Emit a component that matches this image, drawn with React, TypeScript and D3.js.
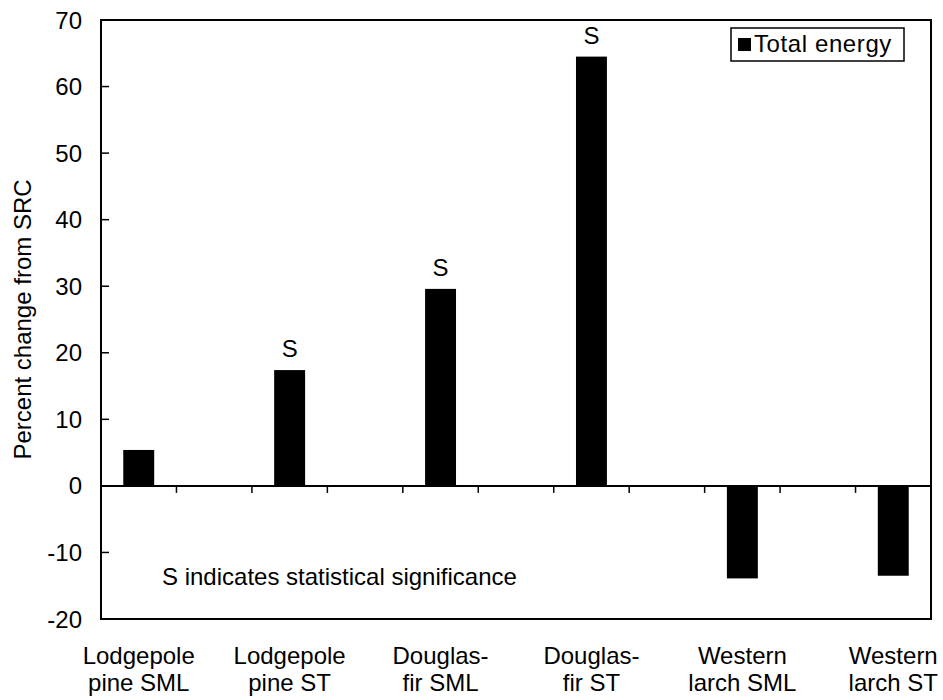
import React, { useEffect, useRef } from 'react';
import * as d3 from 'd3';

const categories = [
  ['Lodgepole', 'pine SML'],
  ['Lodgepole', 'pine ST'],
  ['Douglas-', 'fir SML'],
  ['Douglas-', 'fir ST'],
  ['Western', 'larch SML'],
  ['Western', 'larch ST'],
];
const totalEnergy = [5.4, 17.4, 29.6, 64.5, -13.9, -13.5];
const significance = ['', 'S', 'S', 'S', '', ''];
const yTicks = [70, 60, 50, 40, 30, 20, 10, 0, -10, -20];

const width = 943;
const height = 700;
const font = 'Liberation Sans, Arial, Helvetica, sans-serif';
const fs = 24;

export default function App() {
  const ref = useRef<SVGSVGElement>(null);

  useEffect(() => {
    const svg = d3.select(ref.current);
    svg.selectAll('*').remove();

    const left = 101, right = 931, top = 20, bottom = 619;
    // 11 slots, bars sit in every other one
    const x = d3.scaleLinear().domain([0, 11]).range([left, right]);
    const y = d3.scaleLinear().domain([-20, 70]).range([bottom, top]);
    const slot = (i: number) => x(2 * i + 0.5);
    const barW = x(0.41) - x(0);

    const g = svg.append('g');

    // bars
    g.selectAll('rect.bar')
      .data(totalEnergy)
      .enter()
      .append('rect')
      .attr('class', 'bar')
      .attr('x', (d, i) => slot(i) - barW / 2)
      .attr('width', barW)
      .attr('y', d => y(Math.max(0, d)))
      .attr('height', d => Math.abs(y(d) - y(0)))
      .attr('fill', '#000');

    // frame
    g.append('rect')
      .attr('x', left)
      .attr('y', top)
      .attr('width', right - left)
      .attr('height', bottom - top)
      .attr('fill', 'none')
      .attr('stroke', '#000')
      .attr('stroke-width', 2);

    // zero line
    g.append('line')
      .attr('x1', left).attr('x2', right)
      .attr('y1', y(0)).attr('y2', y(0))
      .attr('stroke', '#000')
      .attr('stroke-width', 2);

    // x ticks below zero line
    g.selectAll('line.xt')
      .data(d3.range(1, 11))
      .enter()
      .append('line')
      .attr('x1', d => x(d)).attr('x2', d => x(d))
      .attr('y1', y(0)).attr('y2', y(0) + 7)
      .attr('stroke', '#000')
      .attr('stroke-width', 1.5);

    // y ticks inward
    g.selectAll('line.yt')
      .data(yTicks.filter(d => d !== 70 && d !== -20))
      .enter()
      .append('line')
      .attr('x1', left).attr('x2', left + 8)
      .attr('y1', d => y(d)).attr('y2', d => y(d))
      .attr('stroke', '#000')
      .attr('stroke-width', 1.5);

    // y tick labels
    g.selectAll('text.yl')
      .data(yTicks)
      .enter()
      .append('text')
      .attr('x', left - 19)
      .attr('y', d => y(d) + 8.5)
      .attr('text-anchor', 'end')
      .attr('font-family', font)
      .attr('font-size', fs)
      .text(d => d);

    // y axis title
    g.append('text')
      .attr('transform', `translate(31,${(top + bottom) / 2}) rotate(-90)`)
      .attr('text-anchor', 'middle')
      .attr('font-family', font)
      .attr('font-size', fs)
      .text('Percent change from SRC');

    // category labels
    categories.forEach((lines, i) => {
      lines.forEach((t, j) => {
        g.append('text')
          .attr('x', slot(i))
          .attr('y', 664 + j * 27)
          .attr('text-anchor', 'middle')
          .attr('font-family', font)
          .attr('font-size', fs)
          .text(t);
      });
    });

    // significance markers
    g.selectAll('text.sig')
      .data(totalEnergy)
      .enter()
      .append('text')
      .attr('x', (d, i) => slot(i))
      .attr('y', d => y(d) - 13)
      .attr('text-anchor', 'middle')
      .attr('font-family', font)
      .attr('font-size', fs)
      .text((d, i) => significance[i]);

    // note
    g.append('text')
      .attr('x', 162)
      .attr('y', 585)
      .attr('font-family', font)
      .attr('font-size', fs)
      .text('S indicates statistical significance');

    // legend
    const lg = g.append('g').attr('transform', 'translate(731,28)');
    lg.append('rect')
      .attr('width', 173).attr('height', 33)
      .attr('fill', '#fff').attr('stroke', '#000').attr('stroke-width', 1.5);
    lg.append('rect')
      .attr('x', 7).attr('y', 10).attr('width', 13).attr('height', 13)
      .attr('fill', '#000');
    lg.append('text')
      .attr('x', 23).attr('y', 24)
      .attr('font-family', font)
      .attr('font-size', fs)
      .attr('letter-spacing', 0.6)
      .text('Total energy');
  }, []);

  return (
    <div style={{ position: 'absolute', left: 0, top: 0 }}>
      <svg ref={ref} width={width} height={height} style={{ display: 'block', background: '#fff' }} />
    </div>
  );
}
